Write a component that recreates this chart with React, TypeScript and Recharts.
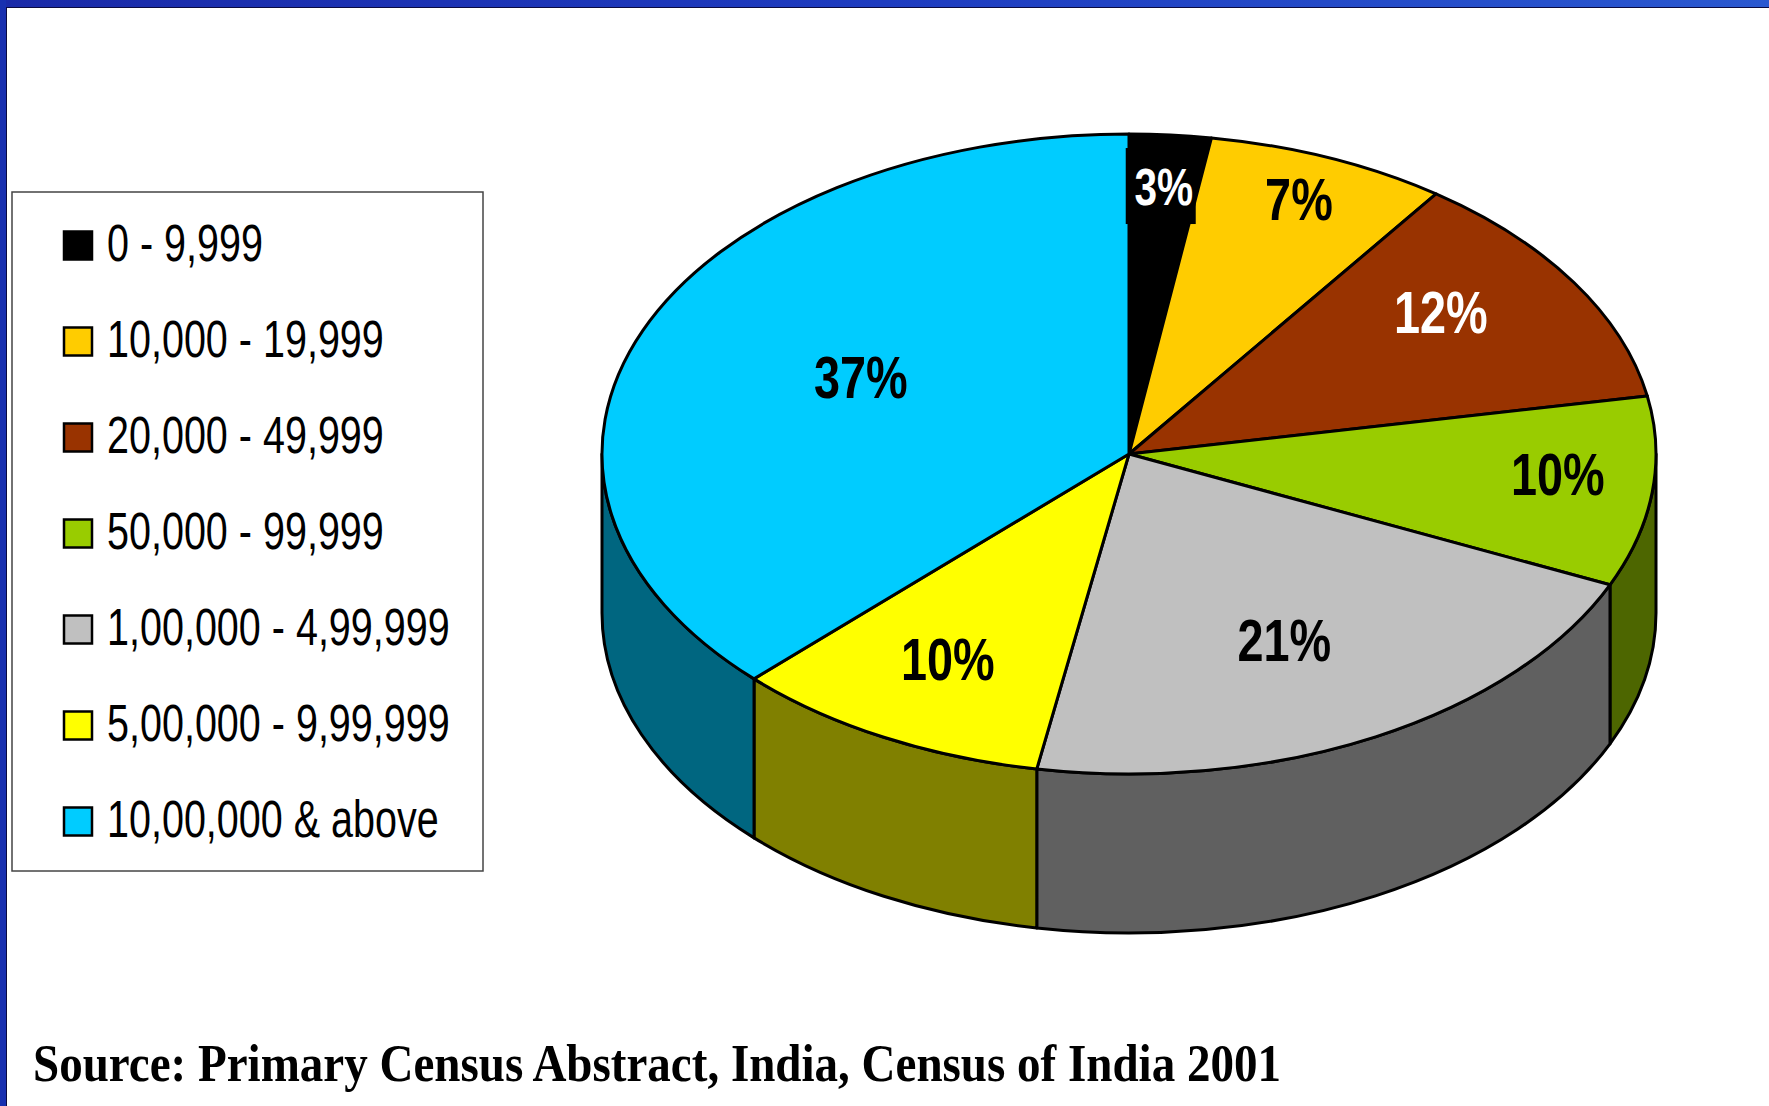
import { PieChart, Pie, Legend } from "recharts";

// town size classes (population) and their share of urban population, %
const CATEGORIES = [
  "0 - 9,999",
  "10,000 - 19,999",
  "20,000 - 49,999",
  "50,000 - 99,999",
  "1,00,000 - 4,99,999",
  "5,00,000 - 9,99,999",
  "10,00,000 & above",
];
const SHARES = [2.5, 7.4, 12.2, 9.6, 21.1, 9.8, 37.4];

const SOURCE = "Source: Primary Census Abstract, India, Census of India 2001";

// styling
const TOP_COLORS = ["#000000", "#FFCC00", "#993300", "#99CC00", "#C0C0C0", "#FFFF00", "#00CCFF"];
const SIDE_COLORS = ["#000000", "#806600", "#4D1A00", "#4D6600", "#606060", "#808000", "#006680"];
const LABEL_COLORS = ["#FFFFFF", "#000000", "#FFFFFF", "#000000", "#000000", "#000000", "#000000"];
// label placement: fraction of radius, and turn from the slice's mid angle (deg)
const LABEL_R = [0.84, 0.86, 0.74, 0.816, 0.649, 0.727, 0.564];
const LABEL_TURN = [0, 0.3, 4.5, 2.6, -0.9, -0.5, -2.9];
const LABEL_SIZE = [52, 60, 60, 60, 60, 60, 60];
const LABEL_BG = [true, false, false, false, false, false, false];

const W = 1769;
const H = 1106;
const CX = 1129;
const CY = 454;
const RX = 527;
const TILT = 320 / 527;
const DEPTH = 159;

const data = CATEGORIES.map((name, i) => ({ name, value: SHARES[i] }));

function pt(cx: number, cy: number, rx: number, ry: number, deg: number, dy = 0) {
  const a = (deg * Math.PI) / 180;
  return [cx + rx * Math.cos(a), cy - ry * Math.sin(a) + dy];
}

// draws one slice as a tilted disc piece: front wall + elliptical top
function renderSlice(p: any) {
  const { cx, cy, outerRadius, startAngle, endAngle, index } = p;
  const rx = outerRadius;
  const ry = outerRadius * TILT;
  const hi = Math.max(startAngle, endAngle);
  const lo = Math.min(startAngle, endAngle);

  const walls: string[] = [];
  for (let k = -2; k <= 1; k++) {
    const a1 = Math.min(hi, 360 * k);
    const a2 = Math.max(lo, 360 * k - 180);
    if (a1 - a2 > 0.01) {
      const [x1, y1] = pt(cx, cy, rx, ry, a1);
      const [x2, y2] = pt(cx, cy, rx, ry, a2);
      walls.push(
        `M${x1},${y1} A${rx},${ry} 0 0 1 ${x2},${y2} L${x2},${y2 + DEPTH} A${rx},${ry} 0 0 0 ${x1},${y1 + DEPTH} Z`
      );
    }
  }

  const [sx, sy] = pt(cx, cy, rx, ry, hi);
  const [ex, ey] = pt(cx, cy, rx, ry, lo);
  const large = hi - lo > 180 ? 1 : 0;
  const top = `M${cx},${cy} L${sx},${sy} A${rx},${ry} 0 ${large} 1 ${ex},${ey} Z`;

  return (
    <g>
      {walls.map((d, j) => (
        <path key={j} d={d} fill={SIDE_COLORS[index]} stroke="#000" strokeWidth={3} strokeLinejoin="round" />
      ))}
      <path d={top} fill={TOP_COLORS[index]} stroke="#000" strokeWidth={3} strokeLinejoin="round" />
    </g>
  );
}

function renderValue(p: any) {
  const { cx, cy, outerRadius, midAngle, index, value } = p;
  const k = LABEL_R[index];
  const [x, y] = pt(cx, cy, outerRadius * k, outerRadius * k * TILT, midAngle + LABEL_TURN[index]);
  const fs = LABEL_SIZE[index];
  const cap = fs * 0.716;
  return (
    <g>
      {LABEL_BG[index] && (
        <rect x={x - 38} y={y - 38} width={70} height={76} fill={TOP_COLORS[index]} />
      )}
      <text
        transform={`translate(${x},${y + cap / 2}) scale(0.78,1)`}
        textAnchor="middle"
        fontFamily="'Liberation Sans', Arial, sans-serif"
        fontWeight="bold"
        fontSize={fs}
        fill={LABEL_COLORS[index]}
      >
        {`${Math.round(value)}%`}
      </text>
    </g>
  );
}

function LegendBox() {
  return (
    <svg width={474} height={682} style={{ display: "block" }}>
      <rect x={1} y={1} width={471} height={679} fill="#fff" stroke="#444" strokeWidth={1.5} />
      {CATEGORIES.map((c, i) => {
        const yc = 54.5 + i * 96;
        return (
          <g key={c}>
            <rect x={53} y={yc - 14} width={28} height={28} fill={TOP_COLORS[i]} stroke="#000" strokeWidth={2.5} />
            <text
              transform={`translate(96,${yc + 15}) scale(0.76,1)`}
              fontFamily="'Liberation Sans', Arial, sans-serif"
              fontSize={52}
              fill="#000"
            >
              {c}
            </text>
          </g>
        );
      })}
    </svg>
  );
}

export default function App() {
  return (
    <div style={{ position: "absolute", left: 0, top: 0, width: W, height: H, background: "#fff", overflow: "hidden" }}>
      <svg width={W} height={H} style={{ position: "absolute", left: 0, top: 0 }}>
        <defs>
          <linearGradient id="frame" x1="0" y1="0" x2="1" y2="0">
            <stop offset="0" stopColor="#1a2aa8" />
            <stop offset="0.5" stopColor="#1e3cc0" />
            <stop offset="1" stopColor="#2a58d0" />
          </linearGradient>
        </defs>
        <rect x={0} y={0} width={W} height={7} fill="url(#frame)" />
        <rect x={0} y={0} width={6} height={H} fill="#1830b0" />
        <line x1={6} y1={7.5} x2={W} y2={7.5} stroke="#0a0a40" strokeWidth={1} />
        <line x1={6.5} y1={7} x2={6.5} y2={H} stroke="#0a0a40" strokeWidth={1} />
        <text
          x={33}
          y={1081}
          fontFamily="'Liberation Serif', 'Times New Roman', serif"
          fontWeight="bold"
          fontSize={52}
          textLength={1248}
          lengthAdjust="spacingAndGlyphs"
          fill="#000"
        >
          {SOURCE}
        </text>
      </svg>
      <div style={{ position: "absolute", left: 0, top: 0 }}>
        <PieChart width={W} height={H} margin={{ top: 0, right: 0, bottom: 0, left: 0 }}>
          <Pie
            data={data}
            dataKey="value"
            nameKey="name"
            cx={CX}
            cy={CY}
            outerRadius={RX}
            startAngle={90}
            endAngle={-270}
            fill="none"
            stroke="none"
            label={renderSlice}
            labelLine={false}
            isAnimationActive={false}
          />
          <Pie
            data={data}
            dataKey="value"
            nameKey="name"
            cx={CX}
            cy={CY}
            outerRadius={RX}
            startAngle={90}
            endAngle={-270}
            fill="none"
            stroke="none"
            legendType="none"
            label={renderValue}
            labelLine={false}
            isAnimationActive={false}
          />
          <Legend
            layout="vertical"
            align="center"
            verticalAlign="middle"
            content={() => <LegendBox />}
            wrapperStyle={{ left: 11, top: 191, width: 474, height: 682 }}
          />
        </PieChart>
      </div>
    </div>
  );
}
